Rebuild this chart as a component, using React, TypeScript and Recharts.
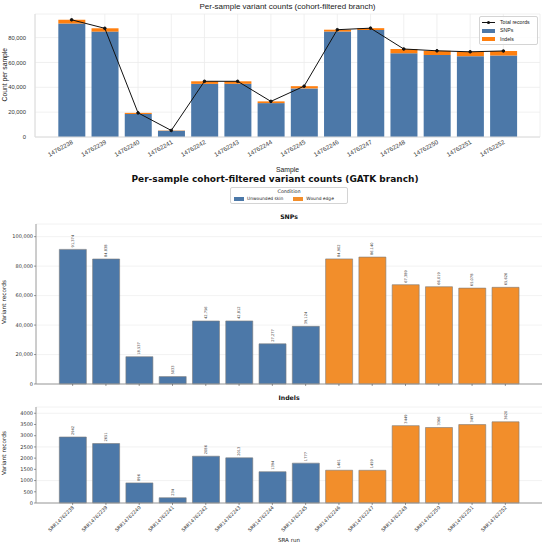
import React from "react";
import { Bar, BarChart, CartesianGrid, Cell, ComposedChart, LabelList, Line, XAxis, YAxis } from "recharts";

const samples = [
  "14762238", "14762239", "14762240", "14762241", "14762242", "14762243", "14762244",
  "14762245", "14762246", "14762247", "14762248", "14762250", "14762251", "14762252",
];
const snpCounts = [91374, 84838, 18537, 5033, 42756, 42812, 27277, 39124, 84902, 86140, 67389, 66019, 65078, 65626];
const indelCounts = [2942, 2651, 896, 234, 2086, 2013, 1394, 1777, 1461, 1459, 3449, 3366, 3497, 3620];
const conditions = [
  "Unwounded skin", "Unwounded skin", "Unwounded skin", "Unwounded skin", "Unwounded skin", "Unwounded skin",
  "Unwounded skin", "Unwounded skin", "Wound edge", "Wound edge", "Wound edge", "Wound edge", "Wound edge", "Wound edge",
];
const countTicks = [0, 20000, 40000, 60000, 80000];
const snpTicks = [0, 20000, 40000, 60000, 80000, 100000];
const indelTicks = [0, 500, 1000, 1500, 2000, 2500, 3000, 3500, 4000];

const BLUE = "#4c78a8";
const ORANGE_TOP = "#ff7f0e";
const ORANGE = "#f28e2b";
const conditionColor: Record<string, string> = { "Unwounded skin": BLUE, "Wound edge": ORANGE };

const ARIAL = "'Liberation Sans', Arial, sans-serif";
const DEJAVU = "'DejaVu Sans', sans-serif";

const rows = samples.map((s, i) => ({
  sample: s,
  run: "SRR" + s,
  snps: snpCounts[i],
  indels: indelCounts[i],
  total: snpCounts[i] + indelCounts[i],
  condition: conditions[i],
}));

const thousands = (v: number) => v.toLocaleString("en-US");
const labelFmt = (v: number) => (v >= 10000 ? thousands(v) : String(v));

function SampleTick({ x, y, payload }: any) {
  return (
    <text
      x={x}
      y={y}
      transform={`rotate(-30 ${x} ${y})`}
      textAnchor="end"
      dy="0.6em"
      fontSize={6.2}
      fontFamily={ARIAL}
      fill="#333"
    >
      {payload.value}
    </text>
  );
}

function RunTick({ x, y, payload }: any) {
  return (
    <text
      x={x}
      y={y}
      transform={`rotate(-45 ${x} ${y})`}
      textAnchor="end"
      dy="0.55em"
      fontSize={4.8}
      fontFamily={DEJAVU}
      fill="#333"
    >
      {payload.value}
    </text>
  );
}

const NoTick = () => <g />;

function ValueLabel({ x, y, width, value }: any) {
  const cx = Number(x) + Number(width) / 2;
  const cy = Number(y) - 2;
  return (
    <text
      x={cx}
      y={cy}
      transform={`rotate(-90 ${cx} ${cy})`}
      textAnchor="start"
      dominantBaseline="central"
      fontSize={3.6}
      fontFamily={DEJAVU}
      fill="#333"
    >
      {labelFmt(Number(value))}
    </text>
  );
}

function TopChart() {
  const frame = "#dcdcdc";
  return (
    <ComposedChart
      width={550}
      height={175}
      data={rows}
      margin={{ top: 14, right: 10, bottom: 0, left: 0 }}
      barCategoryGap="10%"
    >
      <CartesianGrid stroke="#ececec" strokeWidth={0.8} />
      <XAxis
        dataKey="sample"
        padding={{ left: 20, right: 20 }}
        height={38}
        tickLine={false}
        tickSize={0}
        tickMargin={3}
        axisLine={{ stroke: frame }}
        tick={<SampleTick />}
        interval={0}
        label={{ value: "Sample", position: "insideBottom", offset: 3, fontSize: 6.8, fontFamily: ARIAL, fill: "#222" }}
      />
      <XAxis xAxisId="frame" orientation="top" dataKey="sample" height={0} tick={false} tickLine={false} axisLine={{ stroke: frame }} />
      <YAxis
        domain={[0, 99000]}
        ticks={countTicks}
        width={35}
        tickLine={false}
        tickMargin={3}
        axisLine={{ stroke: frame }}
        tickFormatter={thousands}
        tick={{ fontSize: 5.8, fontFamily: ARIAL, fill: "#333" }}
        label={{ value: "Count per sample", angle: -90, position: "insideLeft", offset: 5, dy: 26, fontSize: 6.8, fontFamily: ARIAL, fill: "#222" }}
      />
      <YAxis yAxisId="frame" orientation="right" width={0} tick={false} tickLine={false} axisLine={{ stroke: frame }} />
      <Bar dataKey="snps" stackId="v" fill={BLUE} isAnimationActive={false} />
      <Bar dataKey="indels" stackId="v" fill={ORANGE_TOP} isAnimationActive={false} />
      <Line
        dataKey="total"
        stroke="#111"
        strokeWidth={1}
        dot={{ r: 1.3, fill: "#111", stroke: "#111" }}
        isAnimationActive={false}
      />
    </ComposedChart>
  );
}

function PanelChart({
  dataKey,
  domain,
  ticks,
  height,
  top,
  showRuns,
  formatTick,
}: {
  dataKey: "snps" | "indels";
  domain: [number, number];
  ticks: number[];
  height: number;
  top: number;
  showRuns: boolean;
  formatTick: (v: number) => string;
}) {
  const frame = "#9a9a9a";
  return (
    <BarChart
      width={550}
      height={height}
      data={rows}
      margin={{ top, right: 8, bottom: 0, left: 0 }}
      barCategoryGap="10%"
    >
      <CartesianGrid vertical={false} stroke="#efefef" strokeWidth={0.8} />
      <XAxis
        dataKey="run"
        padding={{ left: 20, right: 20 }}
        height={showRuns ? 41 : 6}
        tickSize={2}
        tickMargin={1}
        tickLine={{ stroke: "#555", strokeWidth: 0.6 }}
        axisLine={{ stroke: frame }}
        tick={showRuns ? <RunTick /> : NoTick}
        interval={0}
        label={
          showRuns
            ? { value: "SRA run", position: "insideBottom", offset: 2, fontSize: 5.6, fontFamily: DEJAVU, fill: "#222" }
            : undefined
        }
      />
      <XAxis xAxisId="frame" orientation="top" dataKey="run" height={0} tick={false} tickLine={false} axisLine={{ stroke: frame, strokeWidth: 1.2 }} />
      <YAxis
        domain={domain}
        ticks={ticks}
        width={36}
        tickSize={2}
        tickMargin={1}
        tickLine={{ stroke: "#555", strokeWidth: 0.6 }}
        axisLine={{ stroke: frame }}
        tickFormatter={formatTick}
        tick={{ fontSize: 5, fontFamily: DEJAVU, fill: "#333" }}
        label={{ value: "Variant records", angle: -90, position: "insideLeft", offset: 4, dy: 20, fontSize: 5.8, fontFamily: DEJAVU, fill: "#222" }}
      />
      <YAxis yAxisId="frame" orientation="right" width={0} tick={false} tickLine={false} axisLine={{ stroke: frame }} />
      <Bar dataKey={dataKey} stroke="#7a7a7a" strokeWidth={0.6} isAnimationActive={false}>
        {rows.map((r) => (
          <Cell key={r.run} fill={conditionColor[r.condition]} />
        ))}
        <LabelList dataKey={dataKey} content={<ValueLabel />} />
      </Bar>
    </BarChart>
  );
}

function Swatch({ color }: { color: string }) {
  return <span style={{ display: "inline-block", width: 10, height: 3.5, background: color, marginRight: 3 }} />;
}

export default function App() {
  return (
    <div style={{ position: "absolute", left: 0, top: 0, width: 550, height: 544, background: "#fff", overflow: "hidden" }}>
      <div
        style={{
          position: "absolute",
          left: 0,
          top: 3,
          width: 575,
          textAlign: "center",
          fontFamily: ARIAL,
          fontSize: 8,
          color: "#222",
          lineHeight: 1,
        }}
      >
        Per-sample variant counts (cohort-filtered branch)
      </div>
      <div style={{ position: "absolute", left: 0, top: 0 }}>
        <TopChart />
      </div>
      <div
        style={{
          position: "absolute",
          left: 479,
          top: 16,
          width: 57,
          height: 27,
          border: "0.8px solid #d4d4d4",
          borderRadius: 2,
          background: "rgba(255,255,255,0.85)",
          fontFamily: ARIAL,
          fontSize: 5.2,
          color: "#222",
          lineHeight: 1,
        }}
      >
        {[
          { name: "Total records", kind: "line", color: "#111" },
          { name: "SNPs", kind: "box", color: BLUE },
          { name: "Indels", kind: "box", color: ORANGE_TOP },
        ].map((it, i) => (
          <div key={it.name} style={{ position: "absolute", left: 2, top: 3 + i * 8.3, display: "flex", alignItems: "center", height: 5 }}>
            {it.kind === "line" ? (
              <span style={{ position: "relative", display: "inline-block", width: 13, height: 1, background: it.color, marginRight: 5 }}>
                <span style={{ position: "absolute", left: 5.3, top: -1, width: 2.5, height: 2.5, borderRadius: 2, background: it.color }} />
              </span>
            ) : (
              <span style={{ display: "inline-block", width: 13, height: 3.5, background: it.color, marginRight: 5 }} />
            )}
            {it.name}
          </div>
        ))}
      </div>

      <div
        style={{
          position: "absolute",
          left: 0,
          top: 175,
          width: 550,
          textAlign: "center",
          fontFamily: DEJAVU,
          fontWeight: "bold",
          fontSize: 9,
          color: "#111",
          lineHeight: 1,
        }}
      >
        Per-sample cohort-filtered variant counts (GATK branch)
      </div>
      <div
        style={{
          position: "absolute",
          left: 230,
          top: 187,
          width: 116,
          height: 15,
          border: "0.8px solid #d4d4d4",
          borderRadius: 2,
          fontFamily: DEJAVU,
          color: "#222",
          lineHeight: 1,
        }}
      >
        <div style={{ position: "absolute", left: 0, top: 2, width: "100%", textAlign: "center", fontSize: 4.8 }}>Condition</div>
        <div style={{ position: "absolute", left: 3, top: 9, display: "flex", alignItems: "center", fontSize: 4.4 }}>
          <Swatch color={BLUE} />
          <span style={{ marginRight: 10 }}>Unwounded skin</span>
          <Swatch color={ORANGE} />
          <span>Wound edge</span>
        </div>
      </div>
      <div
        style={{
          position: "absolute",
          left: 36,
          top: 214,
          width: 506,
          textAlign: "center",
          fontFamily: DEJAVU,
          fontWeight: "bold",
          fontSize: 6.2,
          color: "#111",
          lineHeight: 1,
        }}
      >
        SNPs
      </div>
      <div style={{ position: "absolute", left: 0, top: 210 }}>
        <PanelChart dataKey="snps" domain={[0, 108600]} ticks={snpTicks} height={180} top={14} showRuns={false} formatTick={thousands} />
      </div>
      <div
        style={{
          position: "absolute",
          left: 36,
          top: 395,
          width: 506,
          textAlign: "center",
          fontFamily: DEJAVU,
          fontWeight: "bold",
          fontSize: 6.2,
          color: "#111",
          lineHeight: 1,
        }}
      >
        Indels
      </div>
      <div style={{ position: "absolute", left: 0, top: 395 }}>
        <PanelChart dataKey="indels" domain={[0, 4280]} ticks={indelTicks} height={149} top={12} showRuns={true} formatTick={(v) => String(v)} />
      </div>
    </div>
  );
}
